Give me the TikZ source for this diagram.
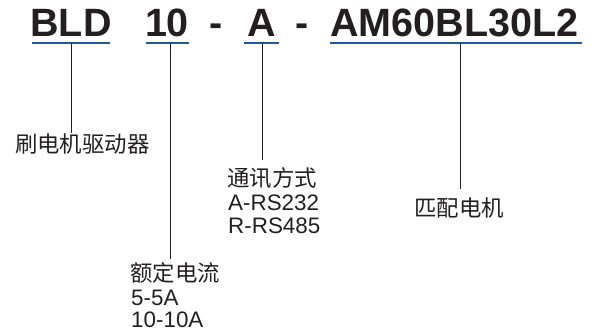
\documentclass[tikz,border=0pt]{standalone}
\usepackage{fontspec}
\setmainfont{Liberation Sans}
\newfontfamily\cjk{Noto Sans CJK SC}
\definecolor{ulblue}{RGB}{30,88,160}
\definecolor{ink}{RGB}{35,31,32}
\begin{document}
\begin{tikzpicture}[x=1pt,y=-1pt,
  title/.style={inner sep=0pt,anchor=base,text=ink,font=\fontsize{39.5}{41}\selectfont\bfseries},
  lab/.style={inner sep=0pt,anchor=base west,text=ink,font=\fontsize{22.4}{24}\selectfont},
  clab/.style={lab,font=\fontsize{22.4}{24}\selectfont\cjk},
  uline/.style={draw=ulblue,line width=2.6pt},
  conn/.style={draw=ink,line width=0.9pt}]
\useasboundingbox (0,0) rectangle (591,331);
% title parts
\node[title] (t1) at (71,37) {BLD};
\node[title] (t2) at (167,37) {10};
\node[title] (d1) at (216,37) {-};
\node[title] (t3) at (261.5,37) {A};
\node[title] (d2) at (302,37) {-};
\node[title] (t4) at (454.5,37) {AM60BL30L2};
% underlines
\coordinate (u1a) at (32,43); \coordinate (u1b) at (110,43);
\coordinate (u2a) at (146,43); \coordinate (u2b) at (189,43);
\coordinate (u3a) at (244,43); \coordinate (u3b) at (279,43);
\coordinate (u4a) at (330,43); \coordinate (u4b) at (582,43);
\draw[uline] (u1a) -- (u1b);
\draw[uline] (u2a) -- (u2b);
\draw[uline] (u3a) -- (u3b);
\draw[uline] (u4a) -- (u4b);
\coordinate (c1) at (71,43);
\coordinate (c2) at (170,43);
\coordinate (c3) at (262,43);
\coordinate (c4) at (460,43);
% labels
\node[clab] (l1) at (15,153) {刷电机驱动器};
\node[clab] (l3a) at (227,186) {通讯方式};
\node[lab] (l3b) at (228,210) {A-RS232};
\node[lab] (l3c) at (228,233) {R-RS485};
\node[clab] (l2a) at (130,281) {额定电流};
\node[lab] (l2b) at (131,305) {5-5A};
\node[lab] (l2c) at (131,327) {10-10A};
\node[clab] (l4) at (414,216) {匹配电机};
% connectors
\draw[conn] (c1) -- ([yshift=1pt]c1 |- l1.north);
\draw[conn] (c2) -- ([yshift=3pt]c2 |- l2a.north);
\draw[conn] (c3) -- ([yshift=7pt]c3 |- l3a.north);
\draw[conn] (c4) -- ([yshift=8pt]c4 |- l4.north);
\end{tikzpicture}
\end{document}
